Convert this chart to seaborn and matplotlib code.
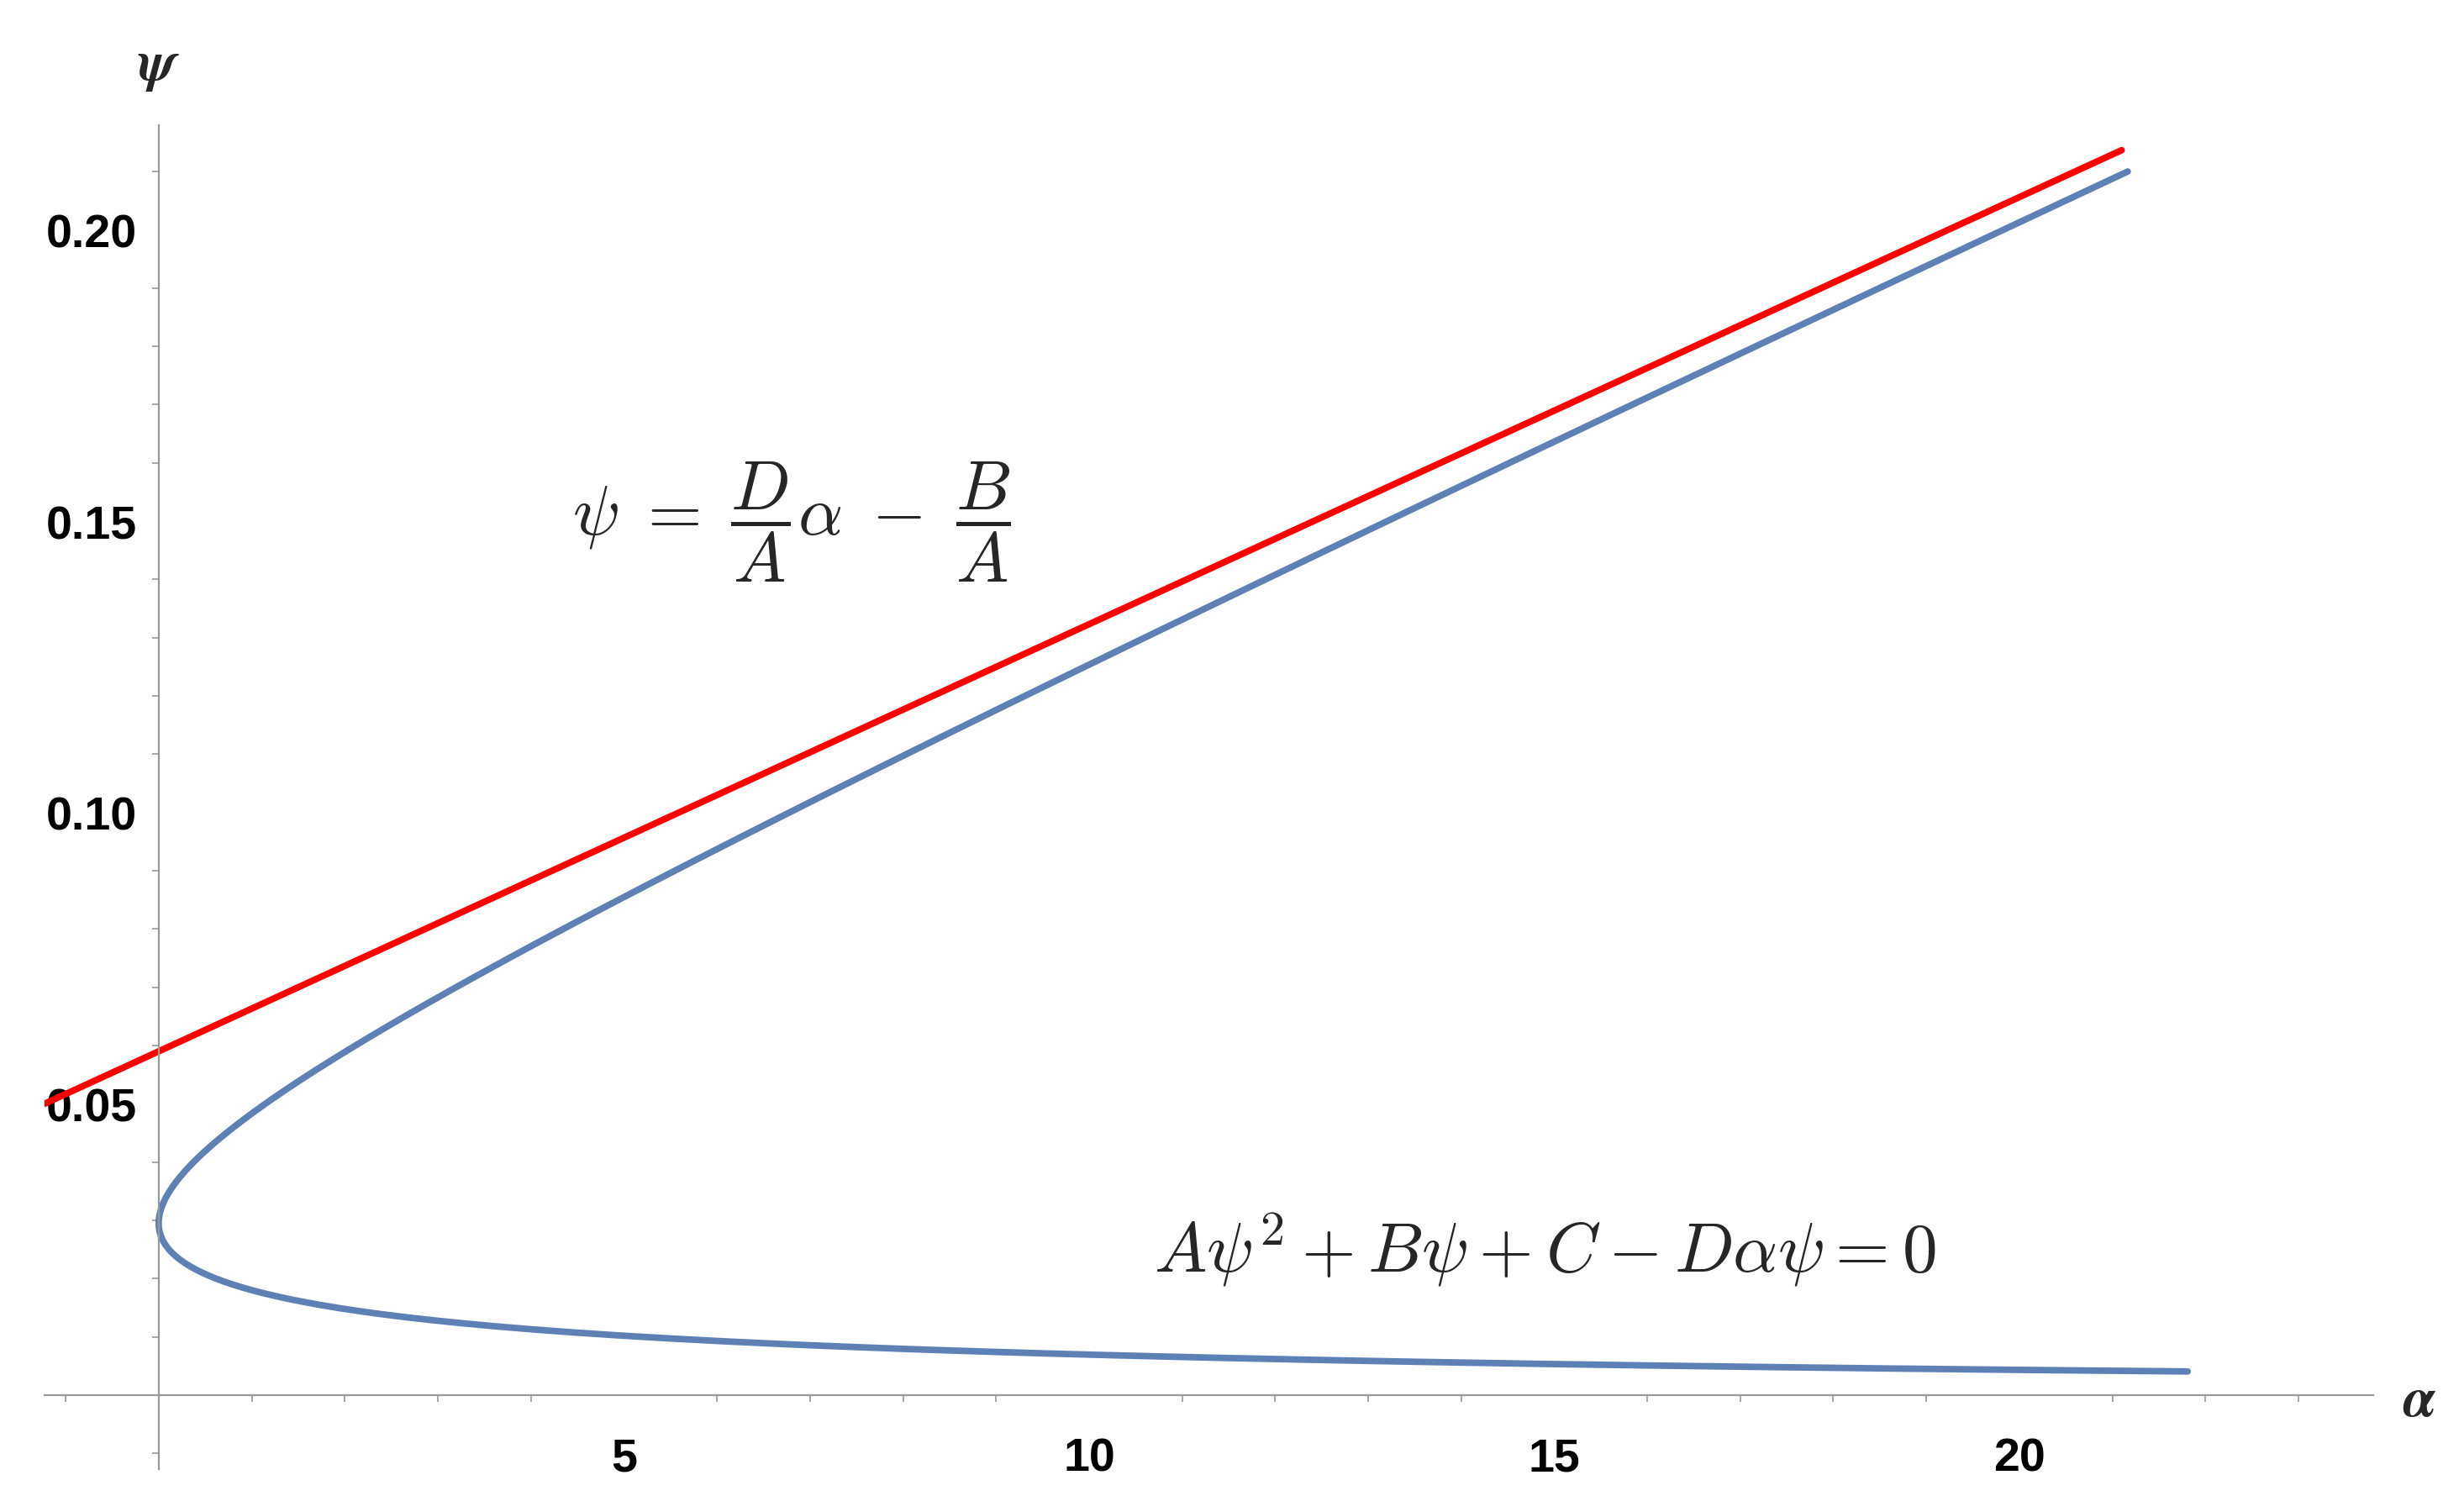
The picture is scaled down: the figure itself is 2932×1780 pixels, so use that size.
import numpy as np
import matplotlib.pyplot as plt
import seaborn as sns
from matplotlib.ticker import MultipleLocator, FixedLocator

sns.set_theme(style="white")
plt.rcParams['mathtext.fontset'] = 'cm'
plt.rcParams['font.family'] = ['Liberation Sans', 'DejaVu Sans']

# coefficients (A normalised to 1)
A = 1.0
B = -0.059
C = 0.00087
D = 0.00733

psi_vals = np.linspace(0.00405, 0.21, 800)
alpha_curve = (A * psi_vals**2 + B * psi_vals + C) / (D * psi_vals)
alpha_line = np.array([-1.23, 21.1])
psi_line = D / A * alpha_line - B / A

fig = plt.figure(figsize=(14.66, 8.905), dpi=200)
ax = fig.add_axes([0.018, 0.018, 0.945, 0.898])
sns.lineplot(x=alpha_curve, y=psi_vals, sort=False, color='#5E81B5', lw=2.8, ax=ax)
sns.lineplot(x=alpha_line, y=psi_line, color='red', lw=2.8, ax=ax)

ax.set_xlim(-1.23, 23.8)
ax.set_ylim(-0.0127, 0.218)
for s in ['top', 'right']:
    ax.spines[s].set_visible(False)
ax.spines['left'].set_position(('data', 0))
ax.spines['bottom'].set_position(('data', 0))
for s in ['left', 'bottom']:
    ax.spines[s].set_color('#999999')
    ax.spines[s].set_linewidth(0.8)

ax.xaxis.set_major_locator(FixedLocator([5, 10, 15, 20]))
ax.xaxis.set_minor_locator(MultipleLocator(1))
ax.yaxis.set_major_locator(FixedLocator([0.05, 0.10, 0.15, 0.20]))
ax.yaxis.set_minor_locator(MultipleLocator(0.01))
ax.set_yticklabels(['0.05', '0.10', '0.15', '0.20'])
ax.tick_params(which='major', direction='out', length=6, width=0.8, color='#999999',
               labelsize=20, labelcolor='black')
ax.tick_params(which='minor', direction='out', length=3, width=0.6, color='#999999', left=True, bottom=True)
ax.tick_params(axis='x', pad=12)
for lab in ax.get_xticklabels() + ax.get_yticklabels():
    lab.set_fontweight('bold')

ax.text(24.3, -0.001, r'$\boldsymbol{\alpha}$', fontsize=24, ha='center', va='center')
ax.text(0.0, 0.228, r'$\boldsymbol{\psi}$', fontsize=24, ha='center', va='center')
ax.text(6.8, 0.15, r'$\psi\;=\;\dfrac{D}{A}\alpha\;-\;\dfrac{B}{A}$', fontsize=30, ha='center', va='center')
ax.text(14.9, 0.025, r'$A\psi^2+B\psi+C-D\alpha\psi=0$', fontsize=30, ha='center', va='center')

fig.savefig('out.png', dpi=200)
